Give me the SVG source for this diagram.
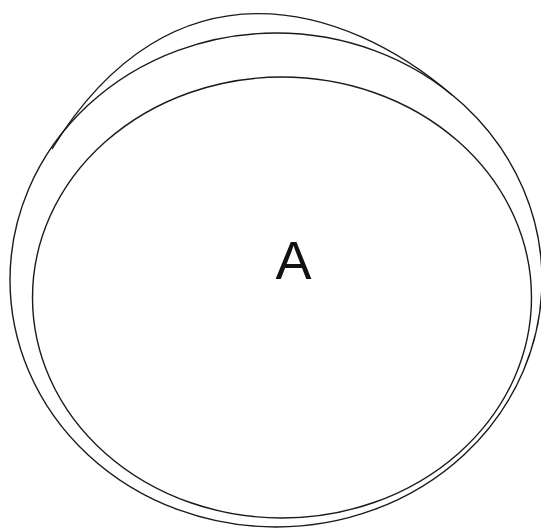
<svg xmlns="http://www.w3.org/2000/svg" width="541" height="529" viewBox="0 0 541 529">
<style>
.ln{fill:none;stroke:#1a1a1a;stroke-width:1.4}
.lbl{font-family:"Liberation Sans",Arial,sans-serif;font-size:54px;fill:#111;text-anchor:middle}
</style>
<rect width="541" height="529" fill="#fff"/>
<g id="outer">
<ellipse class="ln" cx="276" cy="280" rx="266" ry="247"/>
<path class="ln" d="M52,149 C173,-48 345,3 452,95"/>
</g>
<g id="A">
<ellipse class="ln" cx="282" cy="297.5" rx="249.5" ry="220.5"/>
<text class="lbl" x="293.5" y="279">A</text>
</g>
</svg>
